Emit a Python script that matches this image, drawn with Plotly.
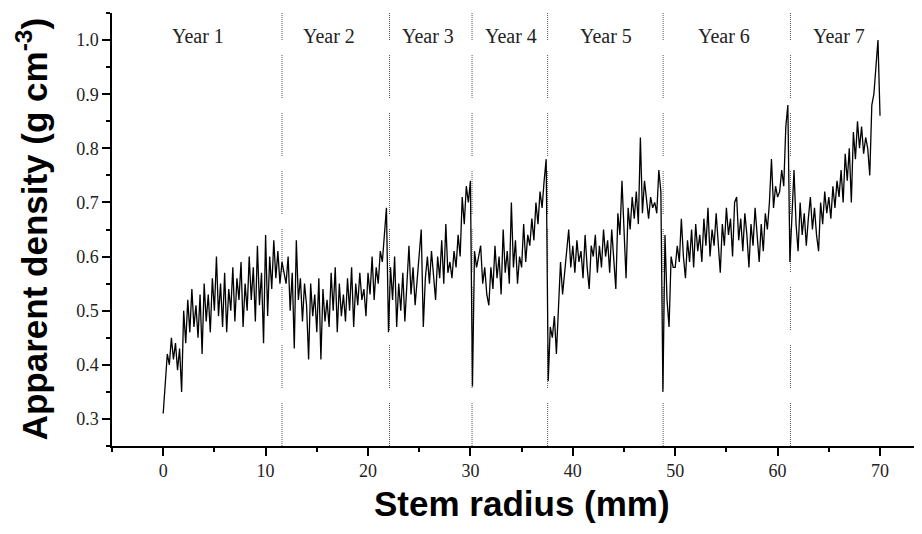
import numpy as np
import plotly.graph_objects as go

# ---------------- data ----------------
step_mm = 0.2  # sampling interval of the density profile (mm)

density = [
    # 0.0 - 1.8
    0.31, 0.37, 0.42, 0.40, 0.45, 0.41, 0.44, 0.39, 0.43, 0.35,
    # 2.0 - 3.8
    0.50, 0.44, 0.52, 0.46, 0.54, 0.47, 0.51, 0.45, 0.53, 0.42,
    # 4.0 - 5.8
    0.55, 0.48, 0.53, 0.46, 0.56, 0.50, 0.60, 0.49, 0.55, 0.47,
    # 6.0 - 7.8
    0.57, 0.46, 0.54, 0.50, 0.58, 0.48, 0.56, 0.52, 0.59, 0.47,
    # 8.0 - 9.8
    0.55, 0.50, 0.60, 0.52, 0.58, 0.48, 0.62, 0.51, 0.57, 0.44,
    # 10.0 - 11.8
    0.64, 0.49, 0.60, 0.54, 0.63, 0.56, 0.61, 0.55, 0.59, 0.57,
    # 12.0 - 13.8
    0.55, 0.60, 0.50, 0.57, 0.43, 0.63, 0.52, 0.56, 0.48, 0.55,
    # 14.0 - 15.8
    0.51, 0.41, 0.55, 0.49, 0.53, 0.46, 0.56, 0.41, 0.54, 0.48,
    # 16.0 - 17.8
    0.52, 0.47, 0.57, 0.50, 0.58, 0.46, 0.55, 0.49, 0.53, 0.48,
    # 18.0 - 19.8
    0.56, 0.50, 0.58, 0.47, 0.55, 0.51, 0.57, 0.52, 0.54, 0.49,
    # 20.0 - 21.8
    0.57, 0.53, 0.60, 0.52, 0.58, 0.55, 0.61, 0.59, 0.64, 0.69,
    # 22.0 - 23.8
    0.46, 0.58, 0.52, 0.60, 0.47, 0.55, 0.50, 0.57, 0.48, 0.56,
    # 24.0 - 25.8
    0.62, 0.53, 0.58, 0.51, 0.56, 0.60, 0.65, 0.47, 0.56, 0.60,
    # 26.0 - 27.8
    0.55, 0.61, 0.57, 0.52, 0.60, 0.56, 0.63, 0.55, 0.66, 0.57,
    # 28.0 - 29.8
    0.59, 0.56, 0.61, 0.58, 0.64, 0.60, 0.71, 0.66, 0.73, 0.70,
    # 30.0 - 31.8
    0.74, 0.36, 0.61, 0.58, 0.60, 0.62, 0.55, 0.58, 0.53, 0.51,
    # 32.0 - 33.8
    0.58, 0.54, 0.62, 0.56, 0.60, 0.53, 0.65, 0.57, 0.61, 0.55,
    # 34.0 - 35.8
    0.70, 0.58, 0.63, 0.55, 0.60, 0.58, 0.66, 0.59, 0.64, 0.62,
    # 36.0 - 37.8
    0.67, 0.63, 0.70, 0.66, 0.72, 0.69, 0.74, 0.78, 0.37, 0.47,
    # 38.0 - 39.8
    0.45, 0.49, 0.42, 0.50, 0.59, 0.53, 0.57, 0.61, 0.65, 0.58,
    # 40.0 - 41.8
    0.62, 0.57, 0.63, 0.59, 0.61, 0.56, 0.64, 0.58, 0.54, 0.62,
    # 42.0 - 43.8
    0.60, 0.64, 0.57, 0.62, 0.58, 0.65, 0.60, 0.63, 0.57, 0.65,
    # 44.0 - 45.8
    0.60, 0.54, 0.68, 0.64, 0.74, 0.66, 0.56, 0.69, 0.65, 0.71,
    # 46.0 - 47.8
    0.67, 0.72, 0.66, 0.82, 0.68, 0.74, 0.70, 0.67, 0.71, 0.69,
    # 48.0 - 49.8
    0.70, 0.68, 0.76, 0.72, 0.35, 0.64, 0.52, 0.47, 0.60, 0.58,
    # 50.0 - 51.8
    0.58, 0.62, 0.59, 0.67, 0.60, 0.56, 0.63, 0.59, 0.65, 0.58,
    # 52.0 - 53.8
    0.66, 0.61, 0.64, 0.59, 0.67, 0.62, 0.69, 0.60, 0.65, 0.62,
    # 54.0 - 55.8
    0.68, 0.63, 0.57, 0.66, 0.62, 0.69, 0.64, 0.67, 0.60, 0.70,
    # 56.0 - 57.8
    0.71, 0.63, 0.67, 0.61, 0.68, 0.64, 0.58, 0.66, 0.62, 0.69,
    # 58.0 - 59.8
    0.64, 0.59, 0.66, 0.61, 0.68, 0.65, 0.70, 0.78, 0.69, 0.73,
    # 60.0 - 61.8
    0.71, 0.72, 0.76, 0.73, 0.84, 0.88, 0.59, 0.68, 0.76, 0.66,
    # 62.0 - 63.8
    0.61, 0.70, 0.64, 0.68, 0.62, 0.67, 0.71, 0.65, 0.69, 0.64,
    # 64.0 - 65.8
    0.61, 0.70, 0.66, 0.72, 0.68, 0.71, 0.67, 0.73, 0.69, 0.74,
    # 66.0 - 67.8
    0.71, 0.76, 0.70, 0.79, 0.74, 0.80, 0.70, 0.83, 0.78, 0.85,
    # 68.0 - 69.8
    0.80, 0.84, 0.79, 0.82, 0.80, 0.75, 0.88, 0.90, 0.96, 1.00,
    # 70.0
    0.86,
]

radius = np.round(np.arange(len(density)) * step_mm, 1)

year_bounds = [11.6, 22.1, 30.16, 37.54, 48.82, 61.25]
year_labels = ["Year 1", "Year 2", "Year 3", "Year 4", "Year 5", "Year 6", "Year 7"]
year_label_x = [3.4, 16.2, 25.9, 34.0, 43.2, 54.8, 66.0]

x_tick_vals = [0, 10, 20, 30, 40, 50, 60, 70]
x_tick_text = ["0", "10", "20", "30", "40", "50", "60", "70"]
y_tick_vals = [0.3, 0.4, 0.5, 0.6, 0.7, 0.8, 0.9, 1.0]
y_tick_text = ["0.3", "0.4", "0.5", "0.6", "0.7", "0.8", "0.9", "1.0"]

# ---------------- figure ----------------
fig = go.Figure()

# dotted year boundaries (dots in groups separated by short gaps)
dot_pattern = ",".join(["1px", "1px"] * 21 + ["1px", "15px"])
for xb in year_bounds:
    fig.add_shape(type="line", xref="x", yref="paper", x0=xb, x1=xb, y0=0, y1=1,
                  line=dict(color="#555555", width=1, dash=dot_pattern), layer="below")

fig.add_trace(go.Scatter(x=radius, y=density, mode="lines",
                         line=dict(color="black", width=1.3), showlegend=False))

serif = "Liberation Serif, Times New Roman, serif"
sans = "Liberation Sans, Arial, sans-serif"

for lab, lx in zip(year_labels, year_label_x):
    fig.add_annotation(x=lx, y=1.008, xref="x", yref="y", text=lab, showarrow=False,
                       font=dict(family=serif, size=20, color="#222222"),
                       xanchor="center", yanchor="middle")

fig.add_annotation(x=-0.099, y=0.5, xref="paper", yref="paper",
                   text="<b>Apparent density (g cm<sup>-3</sup>)</b>", textangle=-90,
                   showarrow=False, font=dict(family=sans, size=35, color="black"),
                   xanchor="center", yanchor="middle")
fig.add_annotation(x=0.506, y=-0.132, xref="paper", yref="paper",
                   text="<b>Stem radius (mm)</b>", showarrow=False,
                   font=dict(family=sans, size=35, color="black"),
                   xanchor="center", yanchor="middle")

fig.update_layout(
    width=922, height=534,
    margin=dict(l=104, r=8, t=5, b=96),
    paper_bgcolor="white", plot_bgcolor="white",
    xaxis=dict(range=[-5, 74.1], tickvals=x_tick_vals, ticktext=x_tick_text,
               ticks="outside", ticklen=8, tickwidth=1.5, tickcolor="black",
               showline=True, linecolor="black", linewidth=1.5,
               showgrid=False, zeroline=False,
               minor=dict(dtick=5, tick0=0, ticks="outside", ticklen=4,
                          tickwidth=1.5, tickcolor="black"),
               tickfont=dict(family=serif, size=18, color="#222222")),
    yaxis=dict(range=[0.25, 1.05], tickvals=y_tick_vals, ticktext=y_tick_text,
               ticks="outside", ticklen=8, tickwidth=1.5, tickcolor="black",
               showline=True, linecolor="black", linewidth=1.5,
               showgrid=False, zeroline=False,
               minor=dict(dtick=0.05, tick0=0.25, ticks="outside", ticklen=4,
                          tickwidth=1.5, tickcolor="black"),
               tickfont=dict(family=serif, size=18, color="#222222")),
)

fig.write_html("out.html")
